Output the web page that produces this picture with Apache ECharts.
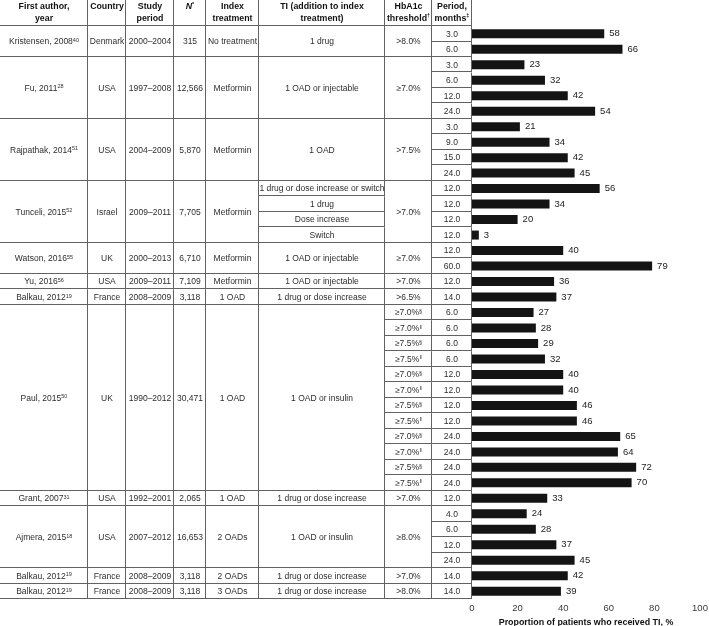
<!DOCTYPE html>
<html>
<head>
<meta charset="UTF-8">
<title>Treatment intensification studies</title>
<script src="https://cdn.jsdelivr.net/npm/echarts@6/dist/echarts.min.js"></script>
<style>
    html, body { margin: 0; padding: 0; background: #fff; }
    #main { width: 709px; height: 626px; }
</style>
</head>
<body>
<div id="main"></div>
<script>
// one entry per study block
var studyAuthors = ['Kristensen, 2008', 'Fu, 2011', 'Rajpathak, 2014', 'Tunceli, 2015', 'Watson, 2016', 'Yu, 2016',
    'Balkau, 2012', 'Paul, 2015', 'Grant, 2007', 'Ajmera, 2015', 'Balkau, 2012', 'Balkau, 2012'];
var studyRefs = ['40', '28', '51', '52', '55', '56', '19', '50', '31', '18', '19', '19'];
var studyRowCounts = [2, 4, 4, 4, 2, 1, 1, 12, 1, 4, 1, 1];
var countries = ['Denmark', 'USA', 'USA', 'Israel', 'UK', 'USA', 'France', 'UK', 'USA', 'USA', 'France', 'France'];
var studyPeriods = ['2000–2004', '1997–2008', '2004–2009', '2009–2011', '2000–2013', '2009–2011', '2008–2009',
    '1990–2012', '1992–2001', '2007–2012', '2008–2009', '2008–2009'];
var sampleSizes = ['315', '12,566', '5,870', '7,705', '6,710', '7,109', '3,118', '30,471', '2,065', '16,653', '3,118', '3,118'];
var indexTreatments = ['No treatment', 'Metformin', 'Metformin', 'Metformin', 'Metformin', 'Metformin', '1 OAD', '1 OAD',
    '1 OAD', '2 OADs', '2 OADs', '3 OADs'];
var tiTreatments = ['1 drug', '1 OAD or injectable', '1 OAD', '', '1 OAD or injectable', '1 OAD or injectable',
    '1 drug or dose increase', '1 OAD or insulin', '1 drug or dose increase', '1 OAD or insulin',
    '1 drug or dose increase', '1 drug or dose increase'];
var thresholds = ['>8.0%', '≥7.0%', '>7.5%', '>7.0%', '≥7.0%', '>7.0%', '>6.5%', '', '>7.0%', '≥8.0%', '>7.0%', '>8.0%'];

// rows that split a block
var tunceliTI = ['1 drug or dose increase or switch', '1 drug', 'Dose increase', 'Switch'];
var paulThresholds = ['≥7.0%', '≥7.0%', '≥7.5%', '≥7.5%', '≥7.0%', '≥7.0%', '≥7.5%', '≥7.5%', '≥7.0%', '≥7.0%', '≥7.5%', '≥7.5%'];
var paulMarks = ['§', '‖', '§', '‖', '§', '‖', '§', '‖', '§', '‖', '§', '‖'];

// one entry per bar
var periodMonths = ['3.0', '6.0', '3.0', '6.0', '12.0', '24.0', '3.0', '9.0', '15.0', '24.0', '12.0', '12.0', '12.0', '12.0',
    '12.0', '60.0', '12.0', '14.0', '6.0', '6.0', '6.0', '6.0', '12.0', '12.0', '12.0', '12.0', '24.0', '24.0', '24.0', '24.0',
    '12.0', '4.0', '6.0', '12.0', '24.0', '14.0', '14.0'];
var proportions = [58, 66, 23, 32, 42, 54, 21, 34, 42, 45, 56, 34, 20, 3, 40, 79, 36, 37, 27, 28, 29, 32, 40, 40, 46, 46,
    65, 64, 72, 70, 33, 24, 28, 37, 45, 42, 39];

var headers = ['{h|First author,}\n{h|year}', '{h|Country}', '{h|Study}\n{h|period}', '{hi|N}{hs|*}',
    '{h|Index}\n{h|treatment}', '{h|TI (addition to index}\n{h|treatment)}', '{h|HbA1c}\n{h|threshold}{hs|†}',
    '{h|Period,}\n{h|months}{hs|‡}'];
var axisTitle = 'Proportion of patients who received TI, %';

// layout
var FONT = '"Liberation Sans", Arial, Helvetica, sans-serif';
var INK = '#2e2e2e';
var RULE = '#626262';
var colEdges = [0, 88, 126, 174, 206, 259, 385, 432, 472];
var HEAD = 1.68; // header height in rows

var rich = {
    t: {fontSize: 8.5, fontFamily: FONT, fill: INK},
    s: {fontSize: 5.5, fontFamily: FONT, fill: INK, verticalAlign: 'top'},
    h: {fontSize: 8.8, fontFamily: FONT, fontWeight: 'bold', fill: '#111', lineHeight: 11.3},
    hi: {fontSize: 8.8, fontFamily: FONT, fontWeight: 'bold', fontStyle: 'italic', fill: '#111', lineHeight: 11.3},
    hs: {fontSize: 5.5, fontFamily: FONT, fontWeight: 'bold', fill: '#111', verticalAlign: 'top'}
};

function esc(s) { return '{t|' + s + '}'; }

var cells = [];
var cellTexts = [];
var cellHead = [];
function addCell(col, r0, r1, text, head) {
    cells.push([colEdges[col], colEdges[col + 1], r0, r1]);
    cellTexts.push(text);
    cellHead.push(head ? 1 : 0);
}

headers.forEach(function (h, c) { addCell(c, -HEAD, 0, h, true); });

var row = 0;
studyAuthors.forEach(function (a, g) {
    var n = studyRowCounts[g];
    var r1 = row + n;
    addCell(0, row, r1, esc(a) + '{s|' + studyRefs[g] + '}');
    addCell(1, row, r1, esc(countries[g]));
    addCell(2, row, r1, esc(studyPeriods[g]));
    addCell(3, row, r1, esc(sampleSizes[g]));
    addCell(4, row, r1, esc(indexTreatments[g]));
    if (tiTreatments[g]) {
        addCell(5, row, r1, esc(tiTreatments[g]));
    } else {
        tunceliTI.forEach(function (t, k) { addCell(5, row + k, row + k + 1, esc(t)); });
    }
    if (thresholds[g]) {
        addCell(6, row, r1, esc(thresholds[g]));
    } else {
        paulThresholds.forEach(function (t, k) {
            addCell(6, row + k, row + k + 1, esc(t) + '{s|' + paulMarks[k] + '}');
        });
    }
    for (var k = 0; k < n; k++) {
        addCell(7, row + k, row + k + 1, esc(periodMonths[row + k]));
    }
    row = r1;
});

var rowIds = proportions.map(function (v, i) { return 'r' + i; });

function px(v) { return Math.floor(v) + 0.5; }

function renderCell(params, api) {
    var p0 = api.coord([api.value(0), api.value(2)]);
    var p1 = api.coord([api.value(1), api.value(3)]);
    var i = params.dataIndex;
    var xr = px(p1[0] - 0.5), yb = px(p1[1] - 0.5);
    var lineStyle = {stroke: RULE, lineWidth: 1};
    var head = cellHead[i];
    return {
        type: 'group',
        children: [
            {type: 'line', shape: {x1: xr, y1: p0[1], x2: xr, y2: yb + 0.5}, style: lineStyle},
            {type: 'line', shape: {x1: p0[0], y1: yb, x2: xr, y2: yb}, style: lineStyle},
            {
                type: 'text',
                style: {
                    text: cellTexts[i],
                    rich: rich,
                    x: (p0[0] + p1[0]) / 2,
                    y: head ? p0[1] + 1.4 : (p0[1] + p1[1]) / 2 + 0.5,
                    align: 'center',
                    verticalAlign: head ? 'top' : 'middle'
                }
            }
        ]
    };
}

var chart = echarts.init(document.getElementById('main'), null, {renderer: 'canvas'});
chart.setOption({
    animation: false,
    backgroundColor: '#fff',
    textStyle: {fontFamily: FONT},
    grid: [
        {left: 0, top: 0, width: 472, bottom: 27, outerBoundsMode: 'none'},
        {left: 472, top: 26, right: 9, bottom: 27, outerBoundsMode: 'none'}
    ],
    xAxis: [
        {gridIndex: 0, type: 'value', min: 0, max: 472, show: false},
        {
            gridIndex: 1, type: 'value', min: 0, max: 100, interval: 20,
            axisLine: {lineStyle: {color: '#333', width: 1}},
            axisTick: {length: 3, lineStyle: {color: '#333'}},
            axisLabel: {fontSize: 9.5, color: '#3a3a3a', margin: 4, fontFamily: FONT},
            splitLine: {show: false},
            name: axisTitle,
            nameLocation: 'middle',
            nameGap: 16,
            nameTextStyle: {fontSize: 8.9, fontWeight: 'bold', color: '#111', fontFamily: FONT}
        }
    ],
    yAxis: [
        {gridIndex: 0, type: 'value', min: -HEAD, max: 37, inverse: true, show: false},
        {
            gridIndex: 1, type: 'category', data: rowIds, inverse: true,
            axisLine: {show: false}, axisTick: {show: false}, axisLabel: {show: false}
        }
    ],
    series: [
        {
            type: 'custom',
            xAxisIndex: 0,
            yAxisIndex: 0,
            silent: true,
            renderItem: renderCell,
            encode: {x: [0, 1], y: [2, 3]},
            data: cells
        },
        {
            type: 'bar',
            xAxisIndex: 1,
            yAxisIndex: 1,
            data: proportions,
            barWidth: 9,
            itemStyle: {color: '#141414'},
            label: {
                show: true, position: 'right', distance: 5,
                fontSize: 9.5, color: '#222', fontFamily: FONT
            }
        }
    ]
});
</script>
</body>
</html>
